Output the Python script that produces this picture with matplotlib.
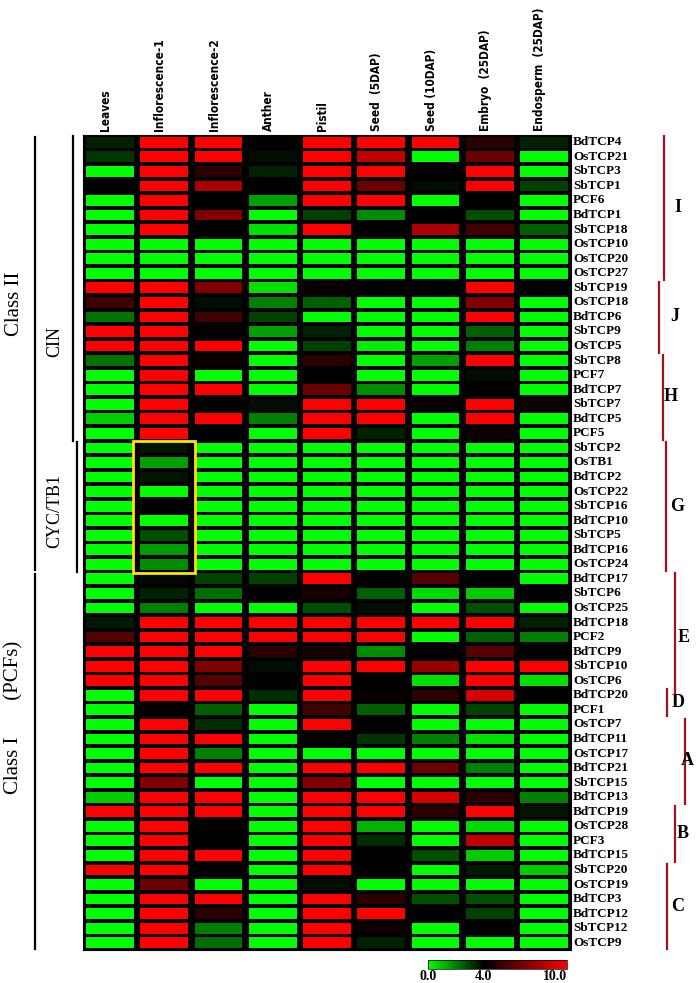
import numpy as np
import matplotlib
matplotlib.use("Agg")
import matplotlib.pyplot as plt
import matplotlib.cm as cm
from matplotlib.colors import LinearSegmentedColormap, Normalize
from matplotlib.patches import Rectangle

# ── data ──
tissues = ["Leaves", "Inflorescence-1", "Inflorescence-2", "Anther", "Pistil",
           "Seed  (5DAP)", "Seed (10DAP)", "Embryo  (25DAP)", "Endosperm  (25DAP)"]

genes = ["BdTCP4", "OsTCP21", "SbTCP3", "SbTCP1", "PCF6", "BdTCP1", "SbTCP18",
         "OsTCP10", "OsTCP20", "OsTCP27", "SbTCP19", "OsTCP18", "BdTCP6", "SbTCP9",
         "OsTCP5", "SbTCP8", "PCF7", "BdTCP7", "SbTCP7", "BdTCP5", "PCF5",
         "SbTCP2", "OsTB1", "BdTCP2", "OsTCP22", "SbTCP16", "BdTCP10", "SbTCP5",
         "BdTCP16", "OsTCP24", "BdTCP17", "SbTCP6", "OsTCP25", "BdTCP18", "PCF2",
         "BdTCP9", "SbTCP10", "OsTCP6", "BdTCP20", "PCF1", "OsTCP7", "BdTCP11",
         "OsTCP17", "BdTCP21", "SbTCP15", "BdTCP13", "BdTCP19", "OsTCP28", "PCF3",
         "BdTCP15", "SbTCP20", "OsTCP19", "BdTCP3", "BdTCP12", "SbTCP12", "OsTCP9"]

# expression level (0 = green, 4 = black, 10 = red), one row per gene
expr = [
    [3.5, 10, 10, 4, 10, 10, 10, 5, 3.5],
    [3.2, 10, 10, 3.8, 10, 8.5, 0, 6.5, 0],
    [0, 10, 5, 3.5, 10, 10, 4, 10, 0],
    [4, 10, 8, 4, 10, 6.5, 3.8, 10, 3],
    [0, 10, 4, 1.5, 10, 10, 0, 4, 0],
    [0, 10, 7, 0, 3, 1.8, 4, 2.8, 0],
    [0, 10, 4, 0.5, 10, 4, 8, 5.5, 2.5],
    [0, 0, 0, 0, 0, 0, 0, 0, 0],
    [0, 0, 0, 0, 0, 0, 0, 0, 0],
    [0, 0, 0, 0, 0, 0, 0, 0, 0],
    [10, 10, 7, 0.5, 4.2, 4, 4, 10, 4],
    [5.5, 10, 3.8, 2, 2.5, 0, 0, 7, 0],
    [2.2, 10, 5.5, 3, 0, 0, 0, 10, 0],
    [10, 10, 4, 1.5, 3.5, 0, 0, 2.5, 0],
    [10, 10, 10, 0, 3, 0.3, 0, 2, 0],
    [2.2, 10, 4.3, 0, 5, 0, 1.5, 10, 0],
    [0, 10, 0, 0, 4, 0, 0, 3.8, 0],
    [0, 10, 10, 0, 6.5, 1.8, 0, 4, 0],
    [0, 10, 4, 3.8, 10, 10, 4.2, 10, 4.3],
    [0.8, 10, 10, 2, 10, 10, 0, 10, 0],
    [0, 10, 4, 0, 10, 3.5, 0, 4.3, 0],
    [0, 3.7, 0, 0, 0, 0, 0, 0, 0],
    [0, 1.5, 0, 0, 0, 0, 0, 0, 0],
    [0, 3.7, 0, 0, 0, 0, 0, 0, 0],
    [0, 0, 0, 0, 0, 0, 0, 0, 0],
    [0, 4, 0, 0, 0, 0, 0, 0, 0],
    [0, 0, 0, 0, 0, 0, 0, 0, 0],
    [0, 2.8, 0, 0, 0, 0, 0, 0, 0],
    [0, 1.6, 0, 0, 0, 0, 0, 0, 0],
    [0, 1.8, 0, 0, 0, 0, 0, 0, 0],
    [0, 3.9, 3, 3, 10, 4, 6, 4, 0],
    [0, 3.5, 2.3, 4, 4.5, 2.5, 0.6, 0.8, 4],
    [0, 2, 0, 0, 2.8, 3.8, 0, 2.8, 0],
    [3.6, 10, 10, 10, 10, 10, 10, 10, 3.5],
    [6, 10, 10, 10, 10, 10, 0, 2.5, 2],
    [10, 10, 10, 5, 4.5, 1.8, 4, 6, 4],
    [10, 10, 7, 3.8, 10, 10, 7.5, 10, 10],
    [10, 10, 6, 4, 10, 4, 0.5, 10, 0.5],
    [0, 10, 10, 3.3, 10, 4.2, 5, 9, 4],
    [0, 4, 2.5, 0, 5.5, 2.5, 0, 3, 0],
    [0, 10, 3.3, 0, 10, 4, 0, 0, 0],
    [0, 10, 10, 0, 4, 3.2, 2, 0.5, 0],
    [0, 10, 2, 0, 0, 0, 0, 0, 0],
    [0, 10, 10, 0, 10, 10, 6.5, 2, 0],
    [0, 7, 0, 0, 7, 0, 0, 0, 0],
    [0.8, 10, 10, 0, 10, 10, 9, 5, 2],
    [10, 10, 10, 0, 10, 10, 5, 10, 3.7],
    [0, 10, 4, 0, 10, 1.2, 0, 0.6, 0],
    [0, 10, 4, 0, 10, 3.3, 0, 8.5, 0],
    [0, 10, 10, 0, 10, 4, 2.8, 0.8, 0],
    [10, 10, 4, 0, 10, 4, 0, 3.6, 0.8],
    [0, 6.5, 0, 0, 3.8, 0, 0, 0, 0],
    [0, 10, 10, 0, 10, 5, 2.8, 2.8, 0],
    [0, 10, 5, 0, 10, 10, 4, 3, 0],
    [0, 10, 2, 0, 10, 4.3, 0, 4, 0],
    [0, 10, 2.3, 0, 10, 3.5, 0, 0, 0],
]

# subclade brackets on the right: name, first row, last row (inclusive)
clades = [("I", 0, 9), ("J", 10, 14), ("H", 15, 20), ("G", 21, 29), ("E", 30, 38),
          ("D", 38, 39), ("A", 40, 45), ("B", 46, 49), ("C", 50, 55)]
# classes on the left: name, first row, last row (inclusive)
classes = [("Class II", 0, 29), ("Class I       (PCFs)", 30, 55)]
subclasses = [("CIN", 0, 20), ("CYC/TB1", 21, 29)]
boxed_rows = (21, 29)  # yellow box in Inflorescence-1

# ── plot ──
W, H = 697, 983
fig = plt.figure(figsize=(W / 100, H / 100), dpi=100)
ax = fig.add_axes([83 / W, 1 - 950 / H, 488 / W, 815 / H])
ax.set_facecolor("black")

cmap = LinearSegmentedColormap.from_list("gkr", [(0, "#00ff00"), (0.4, "#000000"), (1, "#ff0000")])
norm = Normalize(0, 10)

data = np.array(expr, dtype=float)
nrow, ncol = data.shape
for i in range(nrow):
    for j in range(ncol):
        ax.add_patch(Rectangle((j + 0.06, i + 0.13), 0.88, 0.74,
                               facecolor=cmap(norm(data[i, j])), edgecolor="none"))

ax.set_xlim(0, ncol)
ax.set_ylim(nrow, 0)
ax.set_xticks([])
ax.set_yticks([])
for s in ax.spines.values():
    s.set_color("black")

serif = ["Liberation Serif", "DejaVu Serif"]

for j, t in enumerate(tissues):
    ax.text(j + 0.42, -0.3, t, rotation=90, ha="center", va="bottom",
            family="DejaVu Sans", fontstretch="condensed", fontweight="bold",
            fontsize=8.5, clip_on=False)

for i, g in enumerate(genes):
    ax.text(9.04, i + 0.5, g, ha="left", va="center", family=serif,
            fontweight="bold", fontsize=9.5, clip_on=False)

# yellow box
r0, r1 = boxed_rows
ax.add_patch(Rectangle((0.93, r0), 1.13, r1 - r0 + 1.1, fill=False,
                       edgecolor="#ffe400", lw=2, clip_on=False, zorder=5))

# right brackets
red = "#a01020"
bx = {"I": 10.72, "J": 10.63, "H": 10.69, "G": 10.75, "E": 10.92,
      "D": 10.77, "A": 11.10, "B": 10.92, "C": 10.77}
lx = {"I": 10.98, "J": 10.92, "H": 10.83, "G": 10.96, "E": 11.07,
      "D": 10.98, "A": 11.15, "B": 11.05, "C": 10.96}
for name, a, b in clades:
    ax.plot([bx[name], bx[name]], [a + 0.1, b + 0.95], color=red, lw=1.6, clip_on=False)
    ax.text(lx[name], (a + b + 1) / 2, name, ha="center", va="center", family=serif,
            fontweight="bold", fontsize=13, clip_on=False)

# left brackets
label_row = {"Class II": 11.6, "Class I       (PCFs)": 40.0, "CIN": 14.2, "CYC/TB1": 25.8}
for name, a, b in classes:
    ax.plot([-0.88, -0.88], [a + 0.15, b + 0.9], color="black", lw=1.6, clip_on=False)
    ax.text(-1.27, label_row[name], name, rotation=90, ha="center", va="center",
            family=serif, fontsize=15, clip_on=False)
sub_x = {"CIN": -0.18, "CYC/TB1": -0.11}
for name, a, b in subclasses:
    ax.plot([sub_x[name], sub_x[name]], [a + 0.1, b + 1], color="black", lw=1.6, clip_on=False)
    ax.text(-0.52, label_row[name], name, rotation=90, ha="center", va="center",
            family=serif, fontsize=13, clip_on=False)

# colour bar
cax = fig.add_axes([428 / W, 1 - 969 / H, 139 / W, 9 / H])
cb = fig.colorbar(cm.ScalarMappable(norm=norm, cmap=cmap), cax=cax, orientation="horizontal")
cb.set_ticks([0, 4, 10])
cb.set_ticklabels(["0.0", "4.0", "10.0"])
cb.outline.set_linewidth(0.5)
cax.tick_params(length=0, pad=1)
for lab in cax.get_xticklabels():
    lab.set_family(serif)
    lab.set_fontweight("bold")
    lab.set_fontsize(10)
cax.get_xticklabels()[-1].set_ha("right")

fig.savefig("out.png", dpi=100)
